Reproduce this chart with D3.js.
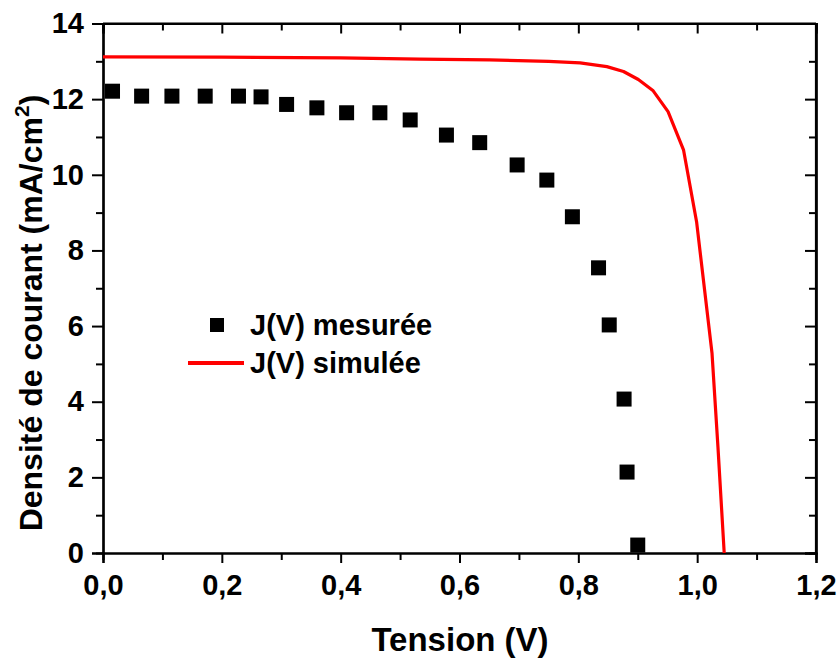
<!DOCTYPE html>
<html>
<head>
<meta charset="utf-8">
<script src="https://cdn.jsdelivr.net/npm/d3@7"></script>
<style>
  html, body { margin: 0; padding: 0; background: #fff; }
  svg { display: block; }
  text { font-family: "Liberation Sans", Arial, sans-serif; font-weight: bold; fill: #000; }
</style>
</head>
<body>
<svg id="chart" width="840" height="660"></svg>
<script>
// Measured J(V) points: voltage (V) and current density (mA/cm²)
const measuredV = [0.016, 0.065, 0.116, 0.172, 0.228, 0.266, 0.309, 0.360, 0.410, 0.466, 0.517,
                   0.578, 0.634, 0.697, 0.747, 0.790, 0.834, 0.852, 0.877, 0.882, 0.900];
const measuredJ = [12.21, 12.08, 12.08, 12.08, 12.08, 12.06, 11.86, 11.77, 11.64, 11.64, 11.45,
                   11.05, 10.85, 10.26, 9.86, 8.89, 7.54, 6.03, 4.07, 2.14, 0.21];

// Simulated J(V) curve
const simV = [0.000, 0.200, 0.400, 0.533, 0.650, 0.750, 0.803, 0.848, 0.876, 0.901, 0.926,
              0.951, 0.977, 0.999, 1.025, 1.035, 1.0455];
const simJ = [13.12, 13.11, 13.09, 13.06, 13.04, 13.00, 12.96, 12.86, 12.73, 12.52, 12.22,
              11.67, 10.66, 8.76, 5.28, 2.80, 0.00];

const xMajorTicks = [0, 0.2, 0.4, 0.6, 0.8, 1.0, 1.2];
const xMinorTicks = [0.1, 0.3, 0.5, 0.7, 0.9, 1.1];
const yMajorTicks = [0, 2, 4, 6, 8, 10, 12, 14];
const yMinorTicks = [1, 3, 5, 7, 9, 11, 13];

const legendLabels = ["J(V) mesurée", "J(V) simulée"];
const xTitle = "Tension (V)";

const svg = d3.select("#chart");
const plotLeft = 103, plotRight = 816, plotTop = 23.5, plotBottom = 553;

const x = d3.scaleLinear().domain([0, 1.2]).range([plotLeft, plotRight]);
const y = d3.scaleLinear().domain([0, 14]).range([plotBottom, plotTop]);

const fmt = d => d3.format(".1f")(d).replace(".", ",");

// Axes with outward major/minor ticks on bottom and left
const gx = svg.append("g").attr("transform", `translate(0,${plotBottom})`);
gx.call(d3.axisBottom(x).tickValues(xMajorTicks).tickSize(10).tickPadding(11).tickFormat(fmt));
gx.append("g").call(d3.axisBottom(x).tickValues(xMinorTicks).tickSize(7).tickFormat(""));

const gy = svg.append("g").attr("transform", `translate(${plotLeft},0)`);
gy.call(d3.axisLeft(y).tickValues(yMajorTicks).tickSize(11).tickPadding(8).tickFormat(d3.format("d")));
gy.append("g").call(d3.axisLeft(y).tickValues(yMinorTicks).tickSize(7).tickFormat(""));

// Mirrored axes: ticks pointing inward
const gt = svg.append("g").attr("transform", `translate(0,${plotTop})`);
gt.call(d3.axisBottom(x).tickValues(xMajorTicks).tickSize(10).tickFormat(""));
gt.append("g").call(d3.axisBottom(x).tickValues(xMinorTicks).tickSize(7).tickFormat(""));

const gr = svg.append("g").attr("transform", `translate(${plotRight},0)`);
gr.call(d3.axisLeft(y).tickValues(yMajorTicks).tickSize(11).tickFormat(""));
gr.append("g").call(d3.axisLeft(y).tickValues(yMinorTicks).tickSize(7).tickFormat(""));

svg.selectAll(".domain").attr("stroke", "#000").attr("stroke-width", 2.2);
svg.selectAll(".tick line").attr("stroke", "#000").attr("stroke-width", 2);
svg.selectAll(".tick text").style("font-size", "29px").style("font-family", "'Liberation Sans', Arial, sans-serif")
   .style("font-weight", "bold").attr("fill", "#000");
// plot frame edges
svg.append("line").attr("x1", plotLeft).attr("x2", plotRight).attr("y1", plotTop).attr("y2", plotTop)
   .attr("stroke", "#000").attr("stroke-width", 2.2);
svg.append("line").attr("x1", plotRight).attr("x2", plotRight).attr("y1", plotTop).attr("y2", plotBottom)
   .attr("stroke", "#000").attr("stroke-width", 2.2);

// Simulated curve
const simData = simV.map((v, i) => [v, simJ[i]]);
svg.append("path")
  .datum(simData)
  .attr("fill", "none")
  .attr("stroke", "#ff0000")
  .attr("stroke-width", 3.2)
  .attr("stroke-linejoin", "round")
  .attr("d", d3.line().x(d => x(d[0])).y(d => y(d[1])));

// Measured points as filled squares
const sq = 15;
const measData = measuredV.map((v, i) => [v, measuredJ[i]]);
svg.append("g").selectAll("rect")
  .data(measData)
  .join("rect")
  .attr("x", d => x(d[0]) - sq / 2)
  .attr("y", d => y(d[1]) - sq / 2)
  .attr("width", sq)
  .attr("height", sq)
  .attr("fill", "#000");

// Legend
const lg = svg.append("g");
lg.append("rect").attr("x", 210).attr("y", 318).attr("width", 14).attr("height", 14).attr("fill", "#000");
lg.append("text").attr("x", 250).attr("y", 335).style("font-size", "29px").text(legendLabels[0]);
lg.append("line").attr("x1", 188).attr("x2", 244).attr("y1", 363).attr("y2", 363)
  .attr("stroke", "#ff0000").attr("stroke-width", 4);
lg.append("text").attr("x", 250).attr("y", 373).style("font-size", "29px").text(legendLabels[1]);

// Axis titles
svg.append("text")
  .attr("x", 460).attr("y", 651)
  .attr("text-anchor", "middle")
  .style("font-size", "33px")
  .text(xTitle);

const yt = svg.append("text")
  .attr("transform", "translate(42,313) rotate(-90)")
  .attr("text-anchor", "middle")
  .style("font-size", "32px");
yt.append("tspan").text("Densité de courant (mA/cm");
yt.append("tspan").attr("dy", -13).style("font-size", "21px").text("2");
yt.append("tspan").attr("dy", 13).text(")");
</script>
</body>
</html>
